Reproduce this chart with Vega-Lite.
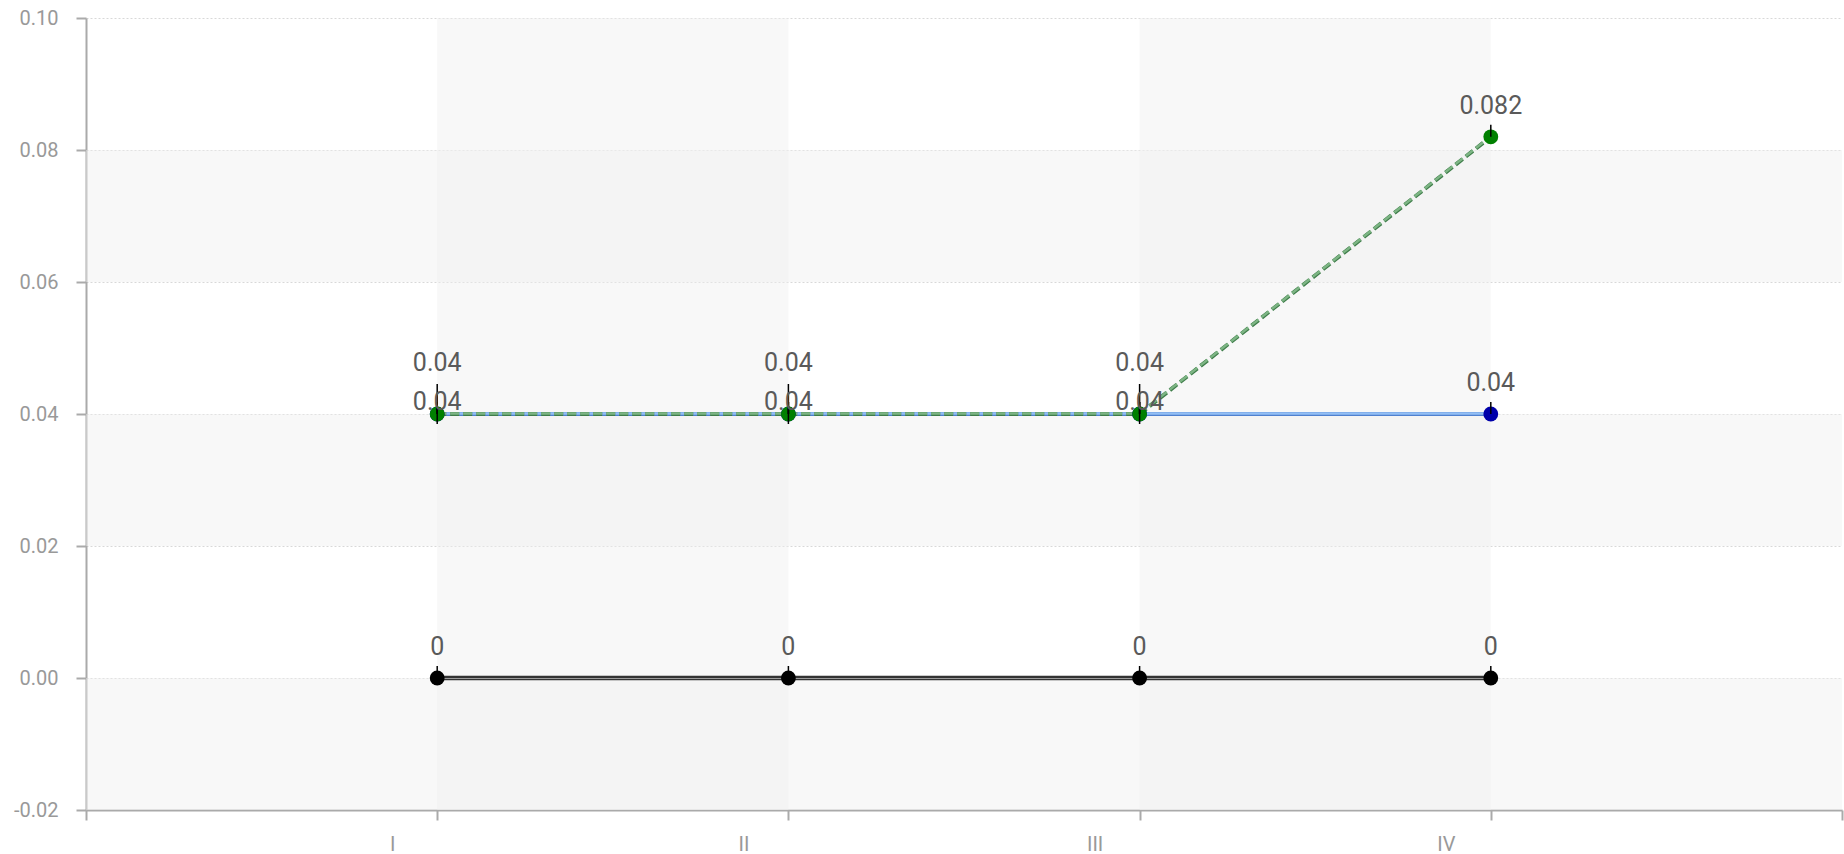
{
  "$schema": "https://vega.github.io/schema/vega-lite/v6.json",
  "autosize": "none",
  "width": 1756,
  "height": 792,
  "padding": {"left": 86, "top": 18, "right": 2, "bottom": 44},
  "background": "white",
  "config": {
    "view": {"stroke": null},
    "font": "Roboto",
    "axis": {
      "labelColor": "#999999",
      "labelFontSize": 20,
      "labelFont": "Roboto",
      "domainColor": "#aaaaaa",
      "domainWidth": 2,
      "tickColor": "#aaaaaa",
      "tickWidth": 2,
      "tickSize": 10,
      "gridColor": "#d8d8d8",
      "gridDash": [2, 2],
      "gridWidth": 1
    }
  },
  "datasets": {
    "series": [
      {"x": 1, "s": "zero", "v": 0},
      {"x": 2, "s": "zero", "v": 0},
      {"x": 3, "s": "zero", "v": 0},
      {"x": 4, "s": "zero", "v": 0},
      {"x": 1, "s": "blue", "v": 0.04},
      {"x": 2, "s": "blue", "v": 0.04},
      {"x": 3, "s": "blue", "v": 0.04},
      {"x": 4, "s": "blue", "v": 0.04},
      {"x": 1, "s": "green", "v": 0.04},
      {"x": 2, "s": "green", "v": 0.04},
      {"x": 3, "s": "green", "v": 0.04},
      {"x": 4, "s": "green", "v": 0.082}
    ],
    "hbands": [
      {"v": -0.02, "v2": 0},
      {"v": 0.02, "v2": 0.04},
      {"v": 0.06, "v2": 0.08}
    ],
    "vbands": [
      {"x": 1, "x2": 2},
      {"x": 3, "x2": 4}
    ]
  },
  "layer": [
    {
      "data": {"name": "hbands"},
      "mark": {"type": "rect", "color": "#f0f0f0", "opacity": 0.45},
      "encoding": {
        "y": {"field": "v", "type": "quantitative", "title": null,
              "scale": {"domain": [-0.02, 0.1], "nice": false, "zero": false},
              "axis": {"values": [-0.02, 0, 0.02, 0.04, 0.06, 0.08, 0.1], "labelPadding": 18,
                       "labelExpr": "datum.value < 0 ? '-' + format(-datum.value, '.2f') : format(datum.value, '.2f')"}},
        "y2": {"field": "v2"},
        "x": {"datum": 0, "type": "quantitative",
              "scale": {"domain": [0, 5], "nice": false, "zero": false},
              "axis": {"values": [0, 1, 2, 3, 4, 5], "title": null, "labelOffset": -45, "labelPadding": 14,
                       "labelExpr": "datum.value==1?'I':datum.value==2?'II':datum.value==3?'III':datum.value==4?'IV':''"}},
        "x2": {"datum": 5}
      }
    },
    {
      "data": {"name": "vbands"},
      "mark": {"type": "rect", "color": "#f0f0f0", "opacity": 0.45},
      "encoding": {
        "x": {"field": "x", "type": "quantitative", "title": null},
        "x2": {"field": "x2"},
        "y": {"datum": -0.02, "type": "quantitative"},
        "y2": {"datum": 0.1}
      }
    },
    {
      "mark": {"type": "rule", "color": "#aaaaaa", "strokeWidth": 2},
      "encoding": {"y": {"datum": 0.1, "type": "quantitative"}}
    },
    {
      "mark": {"type": "rule", "color": "#999999", "strokeWidth": 2},
      "encoding": {"y": {"datum": 0, "type": "quantitative"}}
    },
    {
      "data": {"name": "series"},
      "transform": [{"filter": "datum.s=='zero'"}],
      "layer": [
        {"mark": {"type": "line", "color": "#333333", "strokeWidth": 4.5},
         "encoding": {"x": {"field": "x", "type": "quantitative", "title": null}, "y": {"field": "v", "type": "quantitative", "title": null}}},
        {"mark": {"type": "line", "color": "#9a9a9a", "strokeWidth": 1.2, "yOffset": 0.5},
         "encoding": {"x": {"field": "x", "type": "quantitative", "title": null}, "y": {"field": "v", "type": "quantitative", "title": null}}}
      ]
    },
    {
      "data": {"name": "series"},
      "transform": [{"filter": "datum.s=='blue'"}],
      "layer": [
        {"mark": {"type": "line", "color": "#4f80cf", "strokeWidth": 4},
         "encoding": {"x": {"field": "x", "type": "quantitative", "title": null}, "y": {"field": "v", "type": "quantitative", "title": null}}},
        {"mark": {"type": "line", "color": "#93bff5", "strokeWidth": 2.5, "yOffset": -0.6},
         "encoding": {"x": {"field": "x", "type": "quantitative", "title": null}, "y": {"field": "v", "type": "quantitative", "title": null}}}
      ]
    },
    {
      "data": {"name": "series"},
      "transform": [{"filter": "datum.s=='green'"}],
      "layer": [
        {"mark": {"type": "line", "color": "#3f7d4a", "strokeWidth": 4, "strokeDash": [9, 4]},
         "encoding": {"x": {"field": "x", "type": "quantitative", "title": null}, "y": {"field": "v", "type": "quantitative", "title": null}}},
        {"mark": {"type": "line", "color": "#7db584", "strokeWidth": 2.4, "strokeDash": [9, 4], "yOffset": -0.5},
         "encoding": {"x": {"field": "x", "type": "quantitative", "title": null}, "y": {"field": "v", "type": "quantitative", "title": null}}}
      ]
    },
    {
      "data": {"name": "series"},
      "mark": {"type": "circle", "size": 220, "opacity": 1},
      "encoding": {
        "x": {"field": "x", "type": "quantitative", "title": null},
        "y": {"field": "v", "type": "quantitative", "title": null},
        "color": {"field": "s", "type": "nominal", "legend": null,
                  "scale": {"domain": ["zero", "blue", "green"], "range": ["#000000", "#0000aa", "#008000"]}},
        "order": {"field": "x"}
      }
    },
    {
      "data": {"name": "series"},
      "mark": {"type": "rule", "color": "#000000", "strokeWidth": 1.5, "y2Offset": -12},
      "encoding": {
        "x": {"field": "x", "type": "quantitative", "title": null},
        "y": {"field": "v", "type": "quantitative", "title": null},
        "y2": {"field": "v"}
      }
    },
    {
      "data": {"name": "series"},
      "transform": [{"filter": "datum.s=='green' && datum.x<=3"}],
      "mark": {"type": "rule", "color": "#000000", "strokeWidth": 1.5, "yOffset": 10, "y2Offset": -30},
      "encoding": {
        "x": {"field": "x", "type": "quantitative", "title": null},
        "y": {"field": "v", "type": "quantitative", "title": null},
        "y2": {"field": "v"}
      }
    },
    {
      "data": {"name": "series"},
      "transform": [{"filter": "datum.s=='zero' || datum.x==4"}],
      "mark": {"type": "text", "fontSize": 25, "color": "#5a5a5a", "baseline": "middle", "align": "center", "dy": -31},
      "encoding": {
        "x": {"field": "x", "type": "quantitative", "title": null},
        "y": {"field": "v", "type": "quantitative", "title": null},
        "text": {"field": "v", "type": "quantitative"}
      }
    },
    {
      "data": {"name": "series"},
      "transform": [{"filter": "datum.s=='green' && datum.x<=3"}],
      "mark": {"type": "text", "fontSize": 25, "color": "#5a5a5a", "baseline": "middle", "align": "center", "dy": -51},
      "encoding": {
        "x": {"field": "x", "type": "quantitative", "title": null},
        "y": {"field": "v", "type": "quantitative", "title": null},
        "text": {"field": "v", "type": "quantitative"}
      }
    },
    {
      "data": {"name": "series"},
      "transform": [{"filter": "datum.s=='blue' && datum.x<=3"}],
      "mark": {"type": "text", "fontSize": 25, "color": "#5a5a5a", "baseline": "middle", "align": "center", "dy": -12},
      "encoding": {
        "x": {"field": "x", "type": "quantitative", "title": null},
        "y": {"field": "v", "type": "quantitative", "title": null},
        "text": {"field": "v", "type": "quantitative"}
      }
    }
  ]
}
